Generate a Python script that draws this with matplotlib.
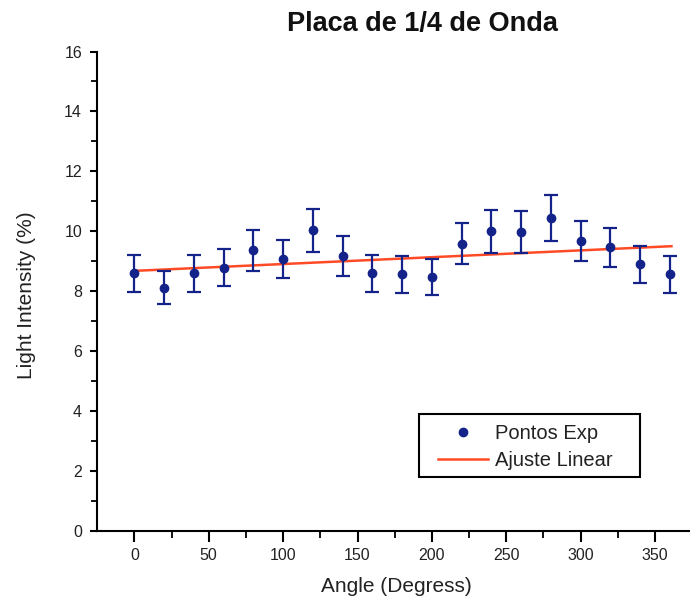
import numpy as np
import matplotlib
matplotlib.use("Agg")
import matplotlib.pyplot as plt
from matplotlib.ticker import MultipleLocator
from matplotlib.lines import Line2D
from matplotlib.patches import Rectangle

plt.rcParams['font.family'] = ['Liberation Sans', 'DejaVu Sans']

# Measured intensity vs. polarizer angle
angles = [0, 20, 40, 60, 80, 100, 120, 140, 160, 180,
          200, 220, 240, 260, 280, 300, 320, 340, 360]
intensity = [8.60, 8.12, 8.60, 8.79, 9.37, 9.08, 10.03, 9.17, 8.60, 8.57,
             8.48, 9.59, 10.00, 9.98, 10.45, 9.67, 9.46, 8.90, 8.57]
errors = [0.62, 0.55, 0.62, 0.62, 0.68, 0.63, 0.71, 0.66, 0.62, 0.62,
          0.59, 0.68, 0.71, 0.70, 0.76, 0.66, 0.66, 0.61, 0.62]

# Linear fit parameters
fit_intercept = 8.68
fit_slope = 0.00228
fit_range = [0, 361]

W, H = 690, 606
fig = plt.figure(figsize=(W / 100, H / 100), dpi=100)
ax = fig.add_axes([97.3 / W, 1 - 531 / H, (689 - 97.3) / W, (531 - 51.5) / H])

navy = '#13238a'
red = '#ff4a26'

fx = np.array(fit_range, dtype=float)
ax.plot(fx, fit_intercept + fit_slope * fx, color=red, lw=1.8, zorder=2)
ax.errorbar(angles, intensity, yerr=errors, fmt='o', color=navy,
            ms=6, elinewidth=1.6, capsize=5, capthick=1.6, zorder=3)

ax.set_xlim(-24.9, 372.8)
ax.set_ylim(0, 16)
ax.xaxis.set_major_locator(MultipleLocator(50))
ax.xaxis.set_minor_locator(MultipleLocator(25))
ax.yaxis.set_major_locator(MultipleLocator(2))
ax.yaxis.set_minor_locator(MultipleLocator(1))

for side in ('top', 'right'):
    ax.spines[side].set_visible(False)
for side in ('left', 'bottom'):
    ax.spines[side].set_linewidth(1.5)

ax.tick_params(axis='x', which='major', direction='out', length=8, width=1.5,
               labelsize=11.5, pad=4, labelcolor='#222222')
ax.tick_params(axis='x', which='minor', direction='out', length=5, width=1.3)
ax.tick_params(axis='y', which='major', direction='out', length=5, width=1.5,
               labelsize=11.5, pad=6, labelcolor='#222222')
ax.tick_params(axis='y', which='minor', direction='out', length=4, width=1.3)

fig.text(396 / W, 1 - 587 / H, 'Angle (Degress)', fontsize=15,
         ha='center', va='center', color='#222222')
fig.text(27 / W, 1 - 295.5 / H, 'Light Intensity (%)', fontsize=15,
         ha='center', va='center', rotation=90, color='#222222')
fig.text(422.5 / W, 1 - 24 / H, 'Placa de 1/4 de Onda', fontsize=19.5,
         fontweight='bold', ha='center', va='center', color='#111111')

# Legend box
fig.patches.append(Rectangle((419 / W, 1 - 477 / H), (640 - 419) / W,
                             (477 - 414) / H, transform=fig.transFigure,
                             facecolor='white', edgecolor='black', lw=1.5,
                             zorder=5))
handles = [
    Line2D([], [], ls='none', marker='o', color=navy, ms=6),
    Line2D([], [], color=red, lw=1.8),
]
labels = ['Pontos Exp', 'Ajuste Linear']
leg = fig.legend(handles, labels, loc='upper left',
                 bbox_to_anchor=(438 / W, 1 - 424 / H),
                 frameon=False, fontsize=14.5, handlelength=2.5,
                 borderpad=0, borderaxespad=0,
                 labelspacing=0.42, handletextpad=0.35,
                 labelcolor='#222222')
leg.set_zorder(6)

fig.savefig('out.png', dpi=100)
